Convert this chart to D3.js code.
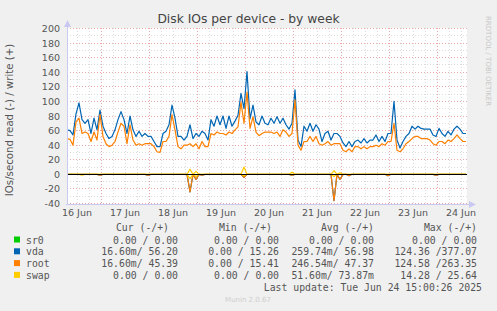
<!DOCTYPE html>
<html>
<head>
<meta charset="utf-8">
<script src="https://cdn.jsdelivr.net/npm/d3@7"></script>
<style>
  body { margin: 0; background: #f0f0f0; }
  svg { display: block; font-family: "DejaVu Sans", sans-serif; }
  .mono { font-family: "DejaVu Sans Mono", monospace; white-space: pre; }
</style>
</head>
<body>
<svg id="chart" width="497" height="311"></svg>
<script>
// samples every 90 minutes from 16 Jun 07:00
const vdaWrite = [61, 60, 54, 83, 98, 75, 70, 75, 56, 77, 61, 88, 66, 56, 49, 52, 61, 75, 86, 75,
  56, 80, 61, 52, 59, 52, 56, 52, 52, 45, 38, 38, 56, 59, 68, 95, 77, 52, 52, 47,
  52, 68, 49, 56, 52, 59, 56, 47, 75, 66, 80, 68, 80, 63, 80, 66, 73, 81, 111, 90,
  141, 76, 95, 72, 68, 80, 70, 68, 77, 70, 79, 70, 77, 68, 62, 70, 116, 47, 38, 66,
  59, 70, 59, 68, 62, 45, 56, 59, 47, 56, 56, 52, 43, 38, 45, 38, 45, 47, 43, 49,
  43, 47, 47, 54, 45, 52, 45, 56, 56, 100, 47, 36, 45, 52, 56, 66, 62, 66, 63, 62,
  62, 62, 54, 52, 63, 56, 52, 59, 54, 62, 66, 62, 56, 56];
const rootWrite = [49, 48, 40, 72, 77, 56, 58, 56, 45, 58, 47, 82, 52, 42, 38, 40, 45, 58, 70, 66,
  42, 68, 47, 40, 42, 40, 42, 42, 42, 38, 31, 30, 45, 45, 52, 82, 61, 38, 35, 40,
  40, 42, 38, 42, 35, 45, 38, 38, 56, 54, 58, 56, 56, 54, 58, 56, 61, 65, 99, 70,
  113, 63, 79, 58, 53, 56, 58, 58, 58, 56, 58, 52, 61, 58, 52, 56, 102, 40, 33, 45,
  45, 52, 45, 52, 42, 40, 42, 45, 40, 42, 42, 42, 33, 31, 35, 31, 38, 38, 35, 38,
  35, 38, 38, 40, 38, 42, 40, 45, 45, 70, 33, 31, 35, 42, 45, 49, 52, 52, 49, 49,
  49, 47, 42, 40, 45, 45, 42, 47, 45, 49, 54, 49, 45, 45];
// [sample index, value] for the few non-zero samples
const rootRead = [[11, -1], [27, -1], [41, -24], [43, -7], [45, -1], [59, -4], [75, -1],
  [89, -36], [91, -7], [94, -2], [107, -2], [123, -1]];
const vdaRead = rootRead;
const swapWrite = [[41, 7], [43, 4], [59, 10], [75, 3], [89, 5], [91, 2]];
const swapRead = [[5, -1], [41, -6], [43, -3], [59, -2], [89, -3]];

const legendNames = ["sr0", "vda", "root", "swap"];
const legendColors = ["#00cc00", "#0066b3", "#ff8000", "#ffcc00"];
const curVals = ["0.00 /  0.00", "16.60m/ 56.20", "16.60m/ 45.39", "0.00 /  0.00"];
const minVals = ["0.00 /  0.00", "0.00 / 15.26", "0.00 / 15.41", "0.00 /  0.00"];
const avgVals = ["0.00 /  0.00", "259.74m/ 56.98", "246.54m/ 47.37", "51.60m/ 73.87m"];
const maxVals = ["0.00 /  0.00", "124.36 /377.07", "124.58 /263.35", "14.28 / 25.64"];

const yTicks = d3.range(-40, 201, 20);
const n = vdaWrite.length;
const t0 = new Date(2025, 5, 16, 7, 0);
const t1 = new Date(2025, 5, 24, 15, 0);
const time = i => new Date(+t0 + i * 1.5 * 3600e3);
const sparse = pairs => {
  const m = new Map(pairs);
  return d3.range(n).map(i => m.get(i) || 0);
};

const svg = d3.select("#chart");
const x = d3.scaleTime([t0, t1], [67, 467]);
const y = d3.scaleLinear([-40, 200], [203.5, 28.5]);
const py = v => Math.floor(y(v)) + 0.5;
const px = d => Math.round(x(d)) + 0.5;

svg.append("rect").attr("x", 67).attr("y", 28).attr("width", 400).attr("height", 176).attr("fill", "#fff");

// grid
const minorY = d3.range(-30, 200, 20);
svg.append("g").selectAll("line").data(minorY).join("line")
    .attr("x1", 67).attr("x2", 467).attr("y1", py).attr("y2", py)
    .attr("stroke", "#dcdcdc").attr("stroke-dasharray", "1,2");
const minorX = d3.timeHour.every(6).range(t0, t1).filter(d => d.getHours() !== 0);
svg.append("g").selectAll("line").data(minorX).join("line")
    .attr("x1", px).attr("x2", px).attr("y1", 28).attr("y2", 204)
    .attr("stroke", "#dcdcdc").attr("stroke-dasharray", "1,2");
svg.append("g").selectAll("line").data(yTicks).join("line")
    .attr("x1", 67).attr("x2", 467).attr("y1", py).attr("y2", py)
    .attr("stroke", "#eaa8a8").attr("stroke-dasharray", "1,2");
svg.append("g").selectAll("line").data(d3.timeDay.range(t0, t1)).join("line")
    .attr("x1", px).attr("x2", px).attr("y1", 28).attr("y2", 204)
    .attr("stroke", "#eaa8a8").attr("stroke-dasharray", "1,2");

// y labels
svg.append("g").selectAll("text").data(yTicks).join("text")
    .attr("x", 60).attr("y", d => y(d) + 3.5).attr("text-anchor", "end")
    .attr("font-size", 9.5).attr("fill", "#555").text(d => d);

// x labels at noon
const noons = d3.timeDay.range(new Date(2025, 5, 16), t1).map(d => d3.timeHour.offset(d, 12));
svg.append("g").selectAll("text").data(noons).join("text")
    .attr("x", d => x(d)).attr("y", 216).attr("text-anchor", "middle")
    .attr("font-size", 9.5).attr("fill", "#555").text(d3.timeFormat("%d Jun"));

// series
const line = d3.line().x((d, i) => x(time(i))).y(d => y(d));
const zeros = d3.range(n).map(() => 0);
const series = [
  [sparse(vdaRead), legendColors[1]], [vdaWrite, legendColors[1]],
  [sparse(rootRead), legendColors[2]], [rootWrite, legendColors[2]],
  [sparse(swapRead), legendColors[3]], [sparse(swapWrite), legendColors[3]]
];
svg.append("g").attr("fill", "none").attr("stroke-width", 1.2).attr("stroke-linejoin", "round")
  .selectAll("path").data(series).join("path")
    .attr("stroke", d => d[1]).attr("d", d => line(d[0]));

// sr0 is flat zero, covered by the black zero rule
svg.append("path").attr("fill", "none").attr("stroke", legendColors[0])
    .attr("d", d3.line().x((d, i) => x(time(i))).y(() => py(0))(zeros));
svg.append("line").attr("x1", 67).attr("x2", 467).attr("y1", py(0)).attr("y2", py(0))
    .attr("stroke", "#000").attr("stroke-width", 1);

// axes with arrows
const axisCol = "#c8c8f0";
svg.append("line").attr("x1", 67.5).attr("x2", 67.5).attr("y1", 205).attr("y2", 26).attr("stroke", axisCol);
svg.append("line").attr("x1", 66).attr("x2", 470).attr("y1", 204.5).attr("y2", 204.5).attr("stroke", axisCol);
svg.append("path").attr("d", "M64,27 L71,27 L67.5,20 Z").attr("fill", axisCol);
svg.append("path").attr("d", "M469,201 L469,208 L476,204.5 Z").attr("fill", axisCol);

// titles
svg.append("text").attr("x", 248.5).attr("y", 23).attr("text-anchor", "middle")
    .attr("font-size", 12.3).attr("fill", "#444").text("Disk IOs per device - by week");
svg.append("text").attr("transform", "translate(13,120) rotate(-90)").attr("text-anchor", "middle")
    .attr("font-size", 10.2).attr("fill", "#555").text("IOs/second read (-) / write (+)");
svg.append("text").attr("transform", "translate(486,16) rotate(90)")
    .attr("font-size", 7).attr("fill", "#c8c8c8").text("RRDTOOL / TOBI OETIKER");

// legend
const lg = svg.append("g").attr("class", "mono").attr("font-size", 9.8).attr("fill", "#555");
const headers = [["Cur (-/+)", 169], ["Min (-/+)", 272], ["Avg (-/+)", 374], ["Max (-/+)", 477]];
lg.selectAll("text.h").data(headers).join("text").attr("class", "h")
    .attr("x", d => d[1]).attr("y", 231).attr("text-anchor", "end").text(d => d[0]);
const rowY = i => 243.5 + i * 11.8;
legendNames.forEach((name, i) => {
  svg.append("rect").attr("x", 14).attr("y", rowY(i) - 7).attr("width", 6).attr("height", 6)
      .attr("fill", legendColors[i]);
  lg.append("text").attr("x", 26).attr("y", rowY(i)).text(name);
  [[curVals, 178], [minVals, 279], [avgVals, 374], [maxVals, 477]].forEach(([vals, xr]) => {
    lg.append("text").attr("x", xr).attr("y", rowY(i)).attr("text-anchor", "end").text(vals[i]);
  });
});
lg.append("text").attr("x", 482).attr("y", 290.5).attr("text-anchor", "end")
    .text("Last update: Tue Jun 24 15:00:26 2025");
svg.append("text").attr("x", 248).attr("y", 302).attr("text-anchor", "middle")
    .attr("font-size", 7).attr("fill", "#cfcfcf").text("Munin 2.0.67");
</script>
</body>
</html>
